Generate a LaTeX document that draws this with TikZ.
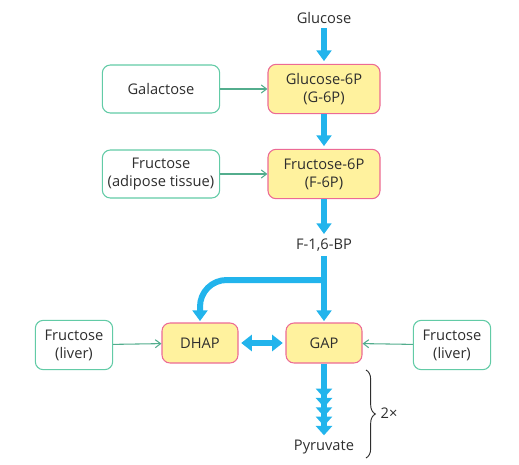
\documentclass[tikz,border=0pt]{standalone}
\usepackage{fontspec}
\setmainfont{Open Sans}
\usetikzlibrary{arrows.meta, positioning, decorations.pathreplacing}
\definecolor{flowblue}{HTML}{22B4EC}
\definecolor{boxyellow}{HTML}{FFF29E}
\definecolor{boxpink}{HTML}{EC6A95}
\definecolor{srcgreen}{HTML}{62CBA6}
\definecolor{textgray}{HTML}{2E2E2E}

\begin{document}
\begin{tikzpicture}[
    x=0.75pt, y=-0.75pt,
    every node/.style={font=\fontsize{11}{13.5}\selectfont, text=textgray},
    metab/.style={draw=boxpink, fill=boxyellow, rounded corners=6pt, line width=0.8pt, minimum width=84pt, minimum height=37pt, align=center, inner sep=2pt},
    triose/.style={metab, minimum width=57pt, minimum height=30pt},
    source/.style={draw=srcgreen, fill=white, rounded corners=6pt, line width=0.8pt, minimum width=88pt, minimum height=36pt, align=center, inner sep=2pt},
    liver/.style={source, minimum width=58pt, minimum height=37pt},
    flow/.style={draw=flowblue, line width=4.5pt, -{Triangle[length=8pt, width=11pt]}},
    feed/.style={draw=srcgreen!85!black, line width=0.8pt, -{Straight Barb[length=4pt, width=6pt]}}
]
    \useasboundingbox (0,0) rectangle (519,465);

    % ================= MAIN PATHWAY =================
    \node (Glc) at (324, 18) {Glucose};
    \node[metab] (G6P) at (324, 89) {Glucose-6P\\(G-6P)};
    \node[metab] (F6P) at (324, 174) {Fructose-6P\\(F-6P)};
    \node (FBP) at (324, 245) {F-1,6-BP};
    \node[triose] (DHAP) at (200, 343) {DHAP};
    \node[triose] (GAP) at (324, 343) {GAP};
    \node (Pyr) at (324, 447) {Pyruvate};

    % ================= ENTRY POINTS =================
    \node[source] (Gal) at (161, 89) {Galactose};
    \node[source] (FruA) at (161, 174) {Fructose\\(adipose tissue)};
    \node[liver] (FruL) at (74, 345) {Fructose\\(liver)};
    \node[liver] (FruR) at (452, 345) {Fructose\\(liver)};

    % Blue flux arrows
    \draw[flow, shorten >=2pt] (Glc) -- (G6P);
    \draw[flow, shorten >=2pt] (G6P) -- (F6P);
    \draw[flow] (F6P) -- (FBP);
    \draw[flow, shorten >=1pt] (FBP) -- (GAP);
    \coordinate (br) at (324, 280);
    \draw[flow, rounded corners=20pt, shorten >=1pt] (br) -| (DHAP.north);
    \draw[flow, {Triangle[length=8pt, width=12pt]}-{Triangle[length=8pt, width=12pt]}, shorten <=2pt, shorten >=2pt] (DHAP) -- (GAP);
    \draw[flow, -{Triangle[length=7pt, width=12pt] Triangle[length=7pt, width=12pt] Triangle[length=7pt, width=12pt] Triangle[length=7pt, width=12pt] Triangle[length=7pt, width=12pt]}] (GAP) -- (Pyr);

    % Green feeder arrows
    \draw[feed] (Gal) -- (G6P);
    \draw[feed] (FruA) -- (F6P);
    \draw[feed] (FruL) -- (DHAP);
    \draw[feed] (FruR) -- (GAP);

    % Brace
    \draw[textgray, line width=0.7pt, decorate, decoration={brace, amplitude=7pt}] (366, 370) -- (366, 458);
    \node (twice) at (389, 413) {2×};
\end{tikzpicture}
\end{document}
